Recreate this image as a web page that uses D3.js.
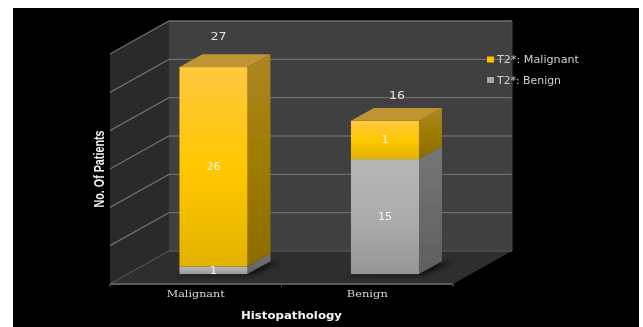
<!DOCTYPE html>
<html>
<head>
<meta charset="utf-8">
<script src="https://cdn.jsdelivr.net/npm/d3@7"></script>
<style>
html,body{margin:0;padding:0;background:#fff;overflow:hidden}
svg{display:block}
</style>
</head>
<body>
<svg id="c" width="643" height="327"></svg>
<script>
// ---- data ----
const categories = ["Malignant", "Benign"];
const seriesNames = ["T2*: Malignant", "T2*: Benign"];
// bar segment heights as drawn, in axis units
const benignDrawn = [1, 15];
const malignantDrawn = [26, 5];
// numbers printed on the chart
const benignPrinted = [1, 15];
const malignantPrinted = [26, 1];
const totalPrinted = [27, 16];
const yTicks = [0, 5, 10, 15, 20, 25, 30];
const yAxisTitle = "No. Of Patients";
const xAxisTitle = "Histopathology";

// ---- layout ----
const svg = d3.select("#c");
const floorLeft = 110, floorRight = 453, floorY = 284, plotTopY = 54;
const wallDX = 59, wallDY = 33;
const barZ0 = 0.30, barZ1 = 0.69;

const x = d3.scaleBand().domain(categories).range([floorLeft, floorRight]).paddingInner(0).paddingOuter(0);
const y = d3.scaleLinear().domain([0, 30]).range([floorY, plotTopY]);
const barW = 68;
const px = (xv, z) => xv + wallDX * z;
const py = (yv, z) => yv - wallDY * z;
const poly = pts => pts.map(p => p.join(",")).join(" ");

const defs = svg.append("defs");
function grad(id, stops) {
  const g = defs.append("linearGradient").attr("id", id).attr("x1", 0).attr("y1", 0).attr("x2", 0).attr("y2", 1);
  stops.forEach(s => g.append("stop").attr("offset", s[0]).attr("stop-color", s[1]));
}
grad("goldFront", [[0, "#FFC83F"], [0.5, "#FFC800"], [1, "#E3B200"]]);
grad("goldSide", [[0, "#AC8623"], [0.5, "#9E7C00"], [1, "#8A6C00"]]);
grad("grayFront", [[0, "#B6B6B6"], [0.55, "#ABABAB"], [1, "#969696"]]);
grad("graySide", [[0, "#767676"], [1, "#5F5F5F"]]);
defs.append("filter").attr("id", "soft").attr("x", "-10%").attr("y", "-10%").attr("width", "120%").attr("height", "120%")
  .append("feGaussianBlur").attr("stdDeviation", 0.55);
defs.append("filter").attr("id", "shadow").attr("x", "-30%").attr("y", "-60%").attr("width", "160%").attr("height", "220%")
  .append("feGaussianBlur").attr("stdDeviation", 2.5);

// page: white margin, black picture
svg.append("rect").attr("x", 13).attr("y", 8).attr("width", 626).attr("height", 319).attr("fill", "#000");

const g = svg.append("g").attr("filter", "url(#soft)");

// walls and floor
g.append("polygon").attr("fill", "#3F3F3F").attr("points", poly([
  [px(floorLeft, 1), py(plotTopY, 1)], [px(floorRight, 1), py(plotTopY, 1)],
  [px(floorRight, 1), py(floorY, 1)], [px(floorLeft, 1), py(floorY, 1)]]));
g.append("polygon").attr("fill", "#292929").attr("points", poly([
  [floorLeft, plotTopY], [px(floorLeft, 1), py(plotTopY, 1)],
  [px(floorLeft, 1), py(floorY, 1)], [floorLeft, floorY]]));
g.append("polygon").attr("fill", "#2E2E2E").attr("points", poly([
  [floorLeft, floorY], [floorRight, floorY],
  [px(floorRight, 1), py(floorY, 1)], [px(floorLeft, 1), py(floorY, 1)]]));

// gridlines
g.selectAll("polyline.grid").data(yTicks).join("polyline").attr("class", "grid")
  .attr("fill", "none").attr("stroke", d => d === 0 ? "#525252" : "#6E6E6E").attr("stroke-width", 1.3)
  .attr("points", d => poly([[floorLeft, y(d)], [px(floorLeft, 1), py(y(d), 1)], [px(floorRight, 1), py(y(d), 1)]]));
g.append("line").attr("x1", px(floorRight, 1)).attr("x2", px(floorRight, 1))
  .attr("y1", py(plotTopY, 1)).attr("y2", py(floorY, 1)).attr("stroke", "#4A4A4A");

// category axis
const xAxis = d3.axisBottom(x).tickSize(0).tickPadding(6);
const ax = g.append("g").attr("transform", `translate(0,${floorY})`).call(xAxis);
ax.select(".domain").remove();
const catWidth = [58, 41];
ax.selectAll("text").attr("font-family", "'DejaVu Serif'").attr("font-size", 10).attr("fill", "#D8D8D8")
  .attr("textLength", (d, i) => catWidth[i]).attr("lengthAdjust", "spacingAndGlyphs");
g.append("line").attr("x1", floorLeft).attr("x2", floorRight).attr("y1", floorY).attr("y2", floorY)
  .attr("stroke", "#5A5A5A").attr("stroke-width", 2);
const axisTicks = [floorLeft, floorLeft + x.step(), floorRight];
g.selectAll("line.t").data(axisTicks).join("line").attr("class", "t")
  .attr("x1", d => d).attr("x2", d => d).attr("y1", floorY).attr("y2", floorY + 3)
  .attr("stroke", "#5A5A5A");

// stacked bars
const rows = categories.map((c, i) => ({ c, benign: benignDrawn[i], malignant: malignantDrawn[i] }));
const stacked = d3.stack().keys(["benign", "malignant"])(rows);
const palette = { benign: ["grayFront", "graySide"], malignant: ["goldFront", "goldSide"] };
const barLeft = c => x(c) + (x.bandwidth() - barW) / 2 + wallDX * barZ0;
const barDepthX = wallDX * (barZ1 - barZ0), barDepthY = wallDY * (barZ1 - barZ0);

// floor shadows
g.selectAll("polygon.shadow").data(categories).join("polygon").attr("class", "shadow")
  .attr("fill", "#000").attr("opacity", 0.7).attr("filter", "url(#shadow)")
  .attr("points", c => {
    const l = barLeft(c) - 4, r = barLeft(c) + barW + 4, b = py(y(0), barZ0) + 1;
    return poly([[l, b], [r, b], [r + barDepthX + 6, b - barDepthY], [l + 10, b - 3]]);
  });

stacked.forEach(layer => {
  const key = layer.key;
  layer.forEach((d, i) => {
    const c = categories[i];
    const l = barLeft(c), r = l + barW;
    const yb = py(y(d[0]), barZ0), yt = py(y(d[1]), barZ0);
    g.append("polygon").attr("fill", `url(#${palette[key][1]})`).attr("points", poly([
      [r, yb], [r, yt], [r + barDepthX, yt - barDepthY], [r + barDepthX, yb - barDepthY]]));
    g.append("rect").attr("x", l).attr("y", yt).attr("width", barW).attr("height", yb - yt)
      .attr("fill", `url(#${palette[key][0]})`);
    if (key === "malignant") {
      g.append("polygon").attr("fill", "#BF9533").attr("points", poly([
        [l, yt], [r, yt], [r + barDepthX, yt - barDepthY], [l + barDepthX, yt - barDepthY]]));
    }
  });
});

// printed values
const valueStyle = s => s.attr("font-family", "'DejaVu Sans'").attr("text-anchor", "middle").attr("dominant-baseline", "central");
const printed = { benign: benignPrinted, malignant: malignantPrinted };
stacked.forEach(layer => {
  layer.forEach((d, i) => {
    const c = categories[i];
    const yb = py(y(d[0]), barZ0), yt = py(y(d[1]), barZ0);
    g.append("text").call(valueStyle).attr("x", barLeft(c) + barW / 2).attr("y", (yb + yt) / 2)
      .attr("font-size", 10).attr("fill", "#F4F4F4")
      .attr("textLength", String(printed[layer.key][i]).length * 7).attr("lengthAdjust", "spacingAndGlyphs")
      .text(printed[layer.key][i]);
  });
});
const totalOffset = [[5, -31], [12, -25]];
categories.forEach((c, i) => {
  const top = py(y(benignDrawn[i] + malignantDrawn[i]), barZ0);
  g.append("text").call(valueStyle).attr("x", barLeft(c) + barW / 2 + totalOffset[i][0]).attr("y", top + totalOffset[i][1])
    .attr("font-size", 11).attr("fill", "#E0E0E0")
    .attr("textLength", 16).attr("lengthAdjust", "spacingAndGlyphs").text(totalPrinted[i]);
});

// axis titles
g.append("text").attr("transform", "translate(99,169) rotate(-90)")
  .attr("font-family", "'Liberation Sans Narrow','Liberation Sans'").attr("font-weight", "bold")
  .attr("font-size", 14).attr("text-anchor", "middle").attr("dominant-baseline", "central")
  .attr("textLength", 77).attr("lengthAdjust", "spacingAndGlyphs")
  .attr("fill", "#F2F2F2").text(yAxisTitle);
g.append("text").attr("x", 291.5).attr("y", 315)
  .attr("font-family", "'DejaVu Sans'").attr("font-weight", "bold")
  .attr("font-size", 11).attr("text-anchor", "middle").attr("dominant-baseline", "central")
  .attr("textLength", 101).attr("lengthAdjust", "spacingAndGlyphs")
  .attr("fill", "#F2F2F2").text(xAxisTitle);

// legend
const legendColors = ["#FFC000", "#A6A6A6"];
const legendWidth = [82, 64];
const legendY = d3.scalePoint().domain(seriesNames).range([59.5, 80]);
const lg = g.selectAll("g.lg").data(seriesNames).join("g").attr("class", "lg")
  .attr("transform", d => `translate(487,${legendY(d)})`);
lg.append("rect").attr("x", 0).attr("y", -3).attr("width", 7).attr("height", 6)
  .attr("fill", (d, i) => legendColors[i]);
lg.append("text").attr("x", 10).attr("dominant-baseline", "central")
  .attr("font-family", "'DejaVu Sans'").attr("font-size", 9.6).attr("fill", "#D2D2D2")
  .attr("textLength", (d, i) => legendWidth[i]).attr("lengthAdjust", "spacingAndGlyphs").text(d => d);
</script>
</body>
</html>
